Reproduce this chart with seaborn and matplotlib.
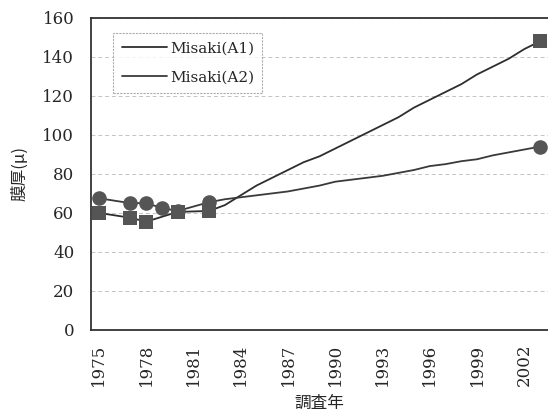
import matplotlib
matplotlib.use("Agg")
import matplotlib.pyplot as plt
import seaborn as sns
import pandas as pd
import numpy as np

# ---- data ----
years_a1 = [1975, 1977, 1978, 1980, 1982, 1983, 1984, 1985, 1986, 1987, 1988, 1989, 1990,
            1991, 1992, 1993, 1994, 1995, 1996, 1997, 1998, 1999, 2000, 2001, 2002, 2003]
vals_a1 = [60, 57.5, 55.5, 60.5, 61, 64, 69, 74, 78, 82, 86, 89, 93,
           97, 101, 105, 109, 114, 118, 122, 126, 131, 135, 139, 144, 148]
marked_a1 = [1975, 1977, 1978, 1980, 1982, 2003]

years_a2 = [1975, 1977, 1978, 1979, 1980, 1982, 1983, 1984, 1985, 1986, 1987, 1988, 1989, 1990,
            1991, 1992, 1993, 1994, 1995, 1996, 1997, 1998, 1999, 2000, 2001, 2002, 2003]
vals_a2 = [67.5, 65, 65, 62.5, 61, 65.5, 67, 68, 69, 70, 71, 72.5, 74, 76,
           77, 78, 79, 80.5, 82, 84, 85, 86.5, 87.5, 89.5, 91, 92.5, 94]
marked_a2 = [1975, 1977, 1978, 1979, 1980, 1982, 2003]

series_names = ["Misaki(A1)", "Misaki(A2)"]
tick_years = [1975, 1978, 1981, 1984, 1987, 1990, 1993, 1996, 1999, 2002]
y_ticks = [0, 20, 40, 60, 80, 100, 120, 140, 160]

df = pd.concat([
    pd.DataFrame({"year": years_a1, "value": vals_a1, "series": series_names[0],
                  "marked": [y in marked_a1 for y in years_a1]}),
    pd.DataFrame({"year": years_a2, "value": vals_a2, "series": series_names[1],
                  "marked": [y in marked_a2 for y in years_a2]}),
], ignore_index=True)

sns.set_theme(style="white")
plt.rcParams['font.family'] = ['DejaVu Serif', 'Noto Sans CJK JP']

fig = plt.figure(figsize=(5.48, 4.15), dpi=100)
ax = fig.add_axes([0.166, 0.205, 0.834, 0.752])

line_color = "#2e2e2e"
marker_color = "#555555"

sns.lineplot(data=df, x="year", y="value", hue="series",
             palette=[line_color, "#3a3a3a"], linewidth=1.3, ax=ax, legend=True)

mk = df[df["marked"]]
sns.scatterplot(data=mk[mk["series"] == series_names[1]], x="year", y="value",
                marker="o", s=110, color=marker_color, edgecolor=marker_color,
                linewidth=0, ax=ax, legend=False, zorder=3)
sns.scatterplot(data=mk[mk["series"] == series_names[0]], x="year", y="value",
                marker="s", s=95, color=marker_color, edgecolor=marker_color,
                linewidth=0, ax=ax, legend=False, zorder=4)

ax.set_xlim(1974.5, 2003.3)
ax.set_ylim(0, 160)
ax.set_yticks(y_ticks)
ax.set_yticklabels([str(v) for v in y_ticks], fontsize=12)
ax.set_xticks(tick_years)
ax.set_xticklabels([str(v) for v in tick_years], rotation=90, fontsize=12)
ax.set_xticks(np.arange(1974.5, 2003.6, 1.0), minor=True)
ax.tick_params(axis="x", which="major", length=0, pad=10)
ax.tick_params(axis="x", which="minor", direction="in", length=3, color="#666666", width=0.8)
ax.tick_params(axis="y", length=0, pad=12)

ax.yaxis.grid(True, color="#c4c4c4", linestyle=(0, (4, 3)), linewidth=0.7)
ax.set_axisbelow(True)

for s in ["left", "bottom", "top"]:
    ax.spines[s].set_color("#333333")
    ax.spines[s].set_linewidth(1.3)
ax.spines["right"].set_visible(False)

ax.set_xlabel("調査年", fontsize=12, family=['Noto Sans CJK JP'], labelpad=6)
ax.set_ylabel("膜厚(μ)", fontsize=12, family=['Noto Sans CJK JP', 'DejaVu Serif'], labelpad=10)

leg = ax.legend(loc="upper left", bbox_to_anchor=(0.032, 0.975), fontsize=11,
                frameon=True, fancybox=False, handlelength=3.0, handletextpad=0.15,
                borderpad=0.55, labelspacing=0.95, title=None)
leg.get_frame().set_edgecolor("#9a9a9a")
leg.get_frame().set_linestyle((0, (2, 1)))
leg.get_frame().set_linewidth(0.8)

fig.savefig("out.png", dpi=100)
